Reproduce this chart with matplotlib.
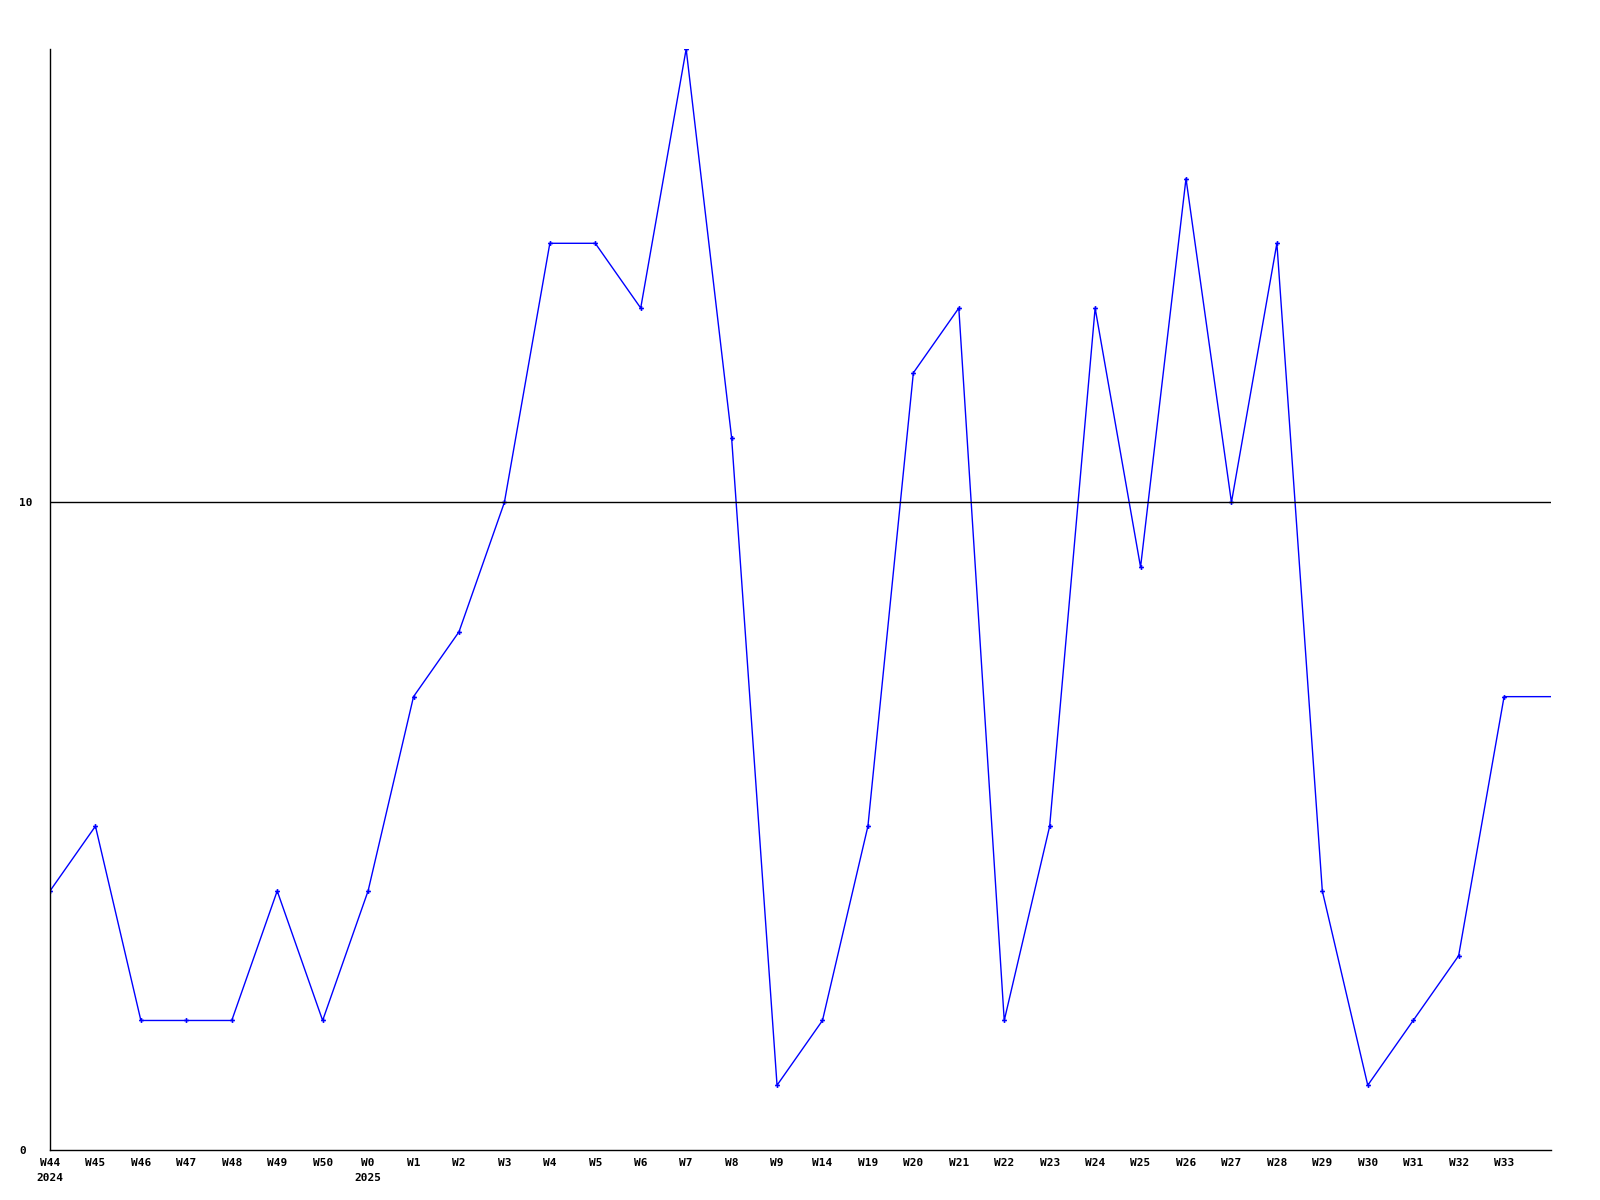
import matplotlib
matplotlib.use("Agg")
import matplotlib.pyplot as plt

weeks = ["W44", "W45", "W46", "W47", "W48", "W49", "W50", "W0", "W1", "W2", "W3",
         "W4", "W5", "W6", "W7", "W8", "W9", "W14", "W19", "W20", "W21", "W22",
         "W23", "W24", "W25", "W26", "W27", "W28", "W29", "W30", "W31", "W32", "W33"]
years = {"W44": "2024", "W0": "2025"}
values = [4, 5, 2, 2, 2, 4, 2, 4, 7, 8, 10,
          14, 14, 13, 17, 11, 1, 2, 5, 12, 13, 2,
          5, 13, 9, 15, 10, 14, 4, 1, 2, 3, 7]
ref_line = 10

fig = plt.figure(figsize=(16, 12), dpi=100)
ax = fig.add_axes([50/1600, 50/1200, 1501/1600, 1101/1200])

n = len(values)
xs = list(range(n))
xmax = (1551 - 50) / 45.44
ax.plot(xs + [xmax], values + [values[-1]], color="#0000FF", lw=1.0)
ax.plot(xs, values, linestyle="none", marker="P", markersize=3.5, color="#0000FF",
        markeredgewidth=0)
ax.axhline(ref_line, color="black", lw=1.0)

ax.set_xlim(0, xmax)
ax.set_ylim(0, 17)
for s in ["top", "right"]:
    ax.spines[s].set_visible(False)
for s in ["left", "bottom"]:
    ax.spines[s].set_linewidth(1.0)
    ax.spines[s].set_color("black")

labels = [w + ("\n" + years[w] if w in years else "") for w in weeks]
ax.set_xticks(xs)
ax.set_xticklabels(labels, fontfamily="DejaVu Sans Mono", fontweight="bold",
                   fontsize=8, linespacing=1.6, va="top")
ax.set_yticks([0, 10])
ax.set_yticklabels(["0", "10"], fontfamily="DejaVu Sans Mono", fontweight="bold",
                   fontsize=8, ha="left")
ax.tick_params(axis="both", length=0)
ax.tick_params(axis="x", pad=6)
ax.tick_params(axis="y", pad=22)

fig.savefig("out.png", dpi=100)
